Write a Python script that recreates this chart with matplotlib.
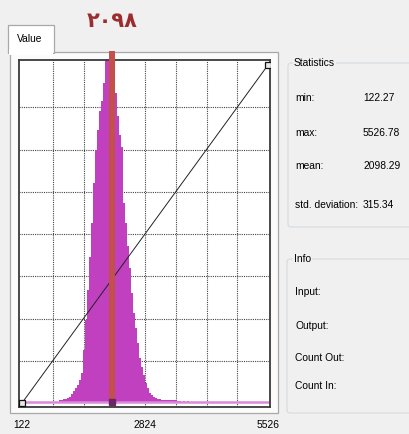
import matplotlib
matplotlib.use('agg')
import matplotlib.pyplot as plt
from matplotlib.patches import Rectangle, FancyBboxPatch
import numpy as np

# histogram data (value range 122 .. 5526)
x_min = 122.27
x_max = 5526.78
bin_start = 935
bin_width = 44
counts = [3, 3, 4, 4, 5, 6, 9, 12, 15, 18, 23, 30, 53, 83, 113, 146, 180, 220,
          253, 273, 292, 302, 320, 345, 370, 380, 375, 355, 310, 287, 268, 256,
          200, 180, 157, 135, 110, 90, 75, 60, 45, 36, 28, 20, 15, 10, 8, 6, 5,
          4, 4, 3, 3, 3, 3, 3, 3, 3, 3, 2, 2, 1, 2, 1, 2, 1]
count_top = 338
marker_value = 2098
marker_label = '٢٠٩٨'
tick_values = [122, 2824, 5526]
tick_labels = ['122', '2824', '5526']

stat_names = ['min:', 'max:', 'mean:', 'std. deviation:']
stat_values = ['122.27', '5526.78', '2098.29', '315.34']
info_names = ['Input:', 'Output:', 'Count Out:', 'Count In:']

W, H = 409, 434
bg = '#f0f0f0'
font = ['Liberation Sans', 'DejaVu Sans']
fs = 7.4

fig = plt.figure(figsize=(W / 100, H / 100), dpi=100)
fig.patch.set_facecolor(bg)


def fx(px):
    return px / W


def fy(py):
    return 1 - py / H


def box(x0, y0, x1, y1, fc, ec, lw=1.0, rounded=False):
    if rounded:
        p = FancyBboxPatch((fx(x0), fy(y1)), fx(x1) - fx(x0), fy(y0) - fy(y1),
                           boxstyle='round,pad=0,rounding_size=0.008',
                           transform=fig.transFigure, fc=fc, ec=ec, lw=lw, zorder=-2)
    else:
        p = Rectangle((fx(x0), fy(y1)), fx(x1) - fx(x0), fy(y0) - fy(y1),
                      transform=fig.transFigure, fc=fc, ec=ec, lw=lw, zorder=-2)
    fig.patches.append(p)


# tab + panel
box(10, 52, 278, 413, '#fbfbfb', '#a8a8a8', 0.9)
box(8, 25, 54, 53, '#ffffff', '#a8a8a8', 0.9)
box(9, 50, 53, 55, '#ffffff', 'none', 0)
fig.text(fx(17), fy(39), 'Value', family=font, fontsize=fs, color='#000000', va='center')

# group boxes
box(288, 63, 425, 227, bg, '#d8dde2', 0.9, rounded=True)
box(287, 259, 425, 413, bg, '#d8dde2', 0.9, rounded=True)
fig.text(fx(294), fy(63), 'Statistics', family=font, fontsize=fs, va='center',
         bbox=dict(fc=bg, ec='none', pad=0.5))
fig.text(fx(294), fy(259), 'Info', family=font, fontsize=fs, va='center',
         bbox=dict(fc=bg, ec='none', pad=0.5))
for name, val, py in zip(stat_names, stat_values, [98, 133, 166, 205]):
    fig.text(fx(295), fy(py), name, family=font, fontsize=fs, va='center')
    fig.text(fx(363), fy(py), val, family=font, fontsize=fs, va='center')
for name, py in zip(info_names, [292, 326, 358, 386]):
    fig.text(fx(295), fy(py), name, family=font, fontsize=fs, va='center')

# plot area
ax = fig.add_axes([fx(19), fy(407), fx(270) - fx(19), fy(60) - fy(407)])
scale = (x_max - x_min) / 246
ax.set_xlim(x_min - 3 * scale, x_min + 248 * scale)
ax.set_ylim(-4, count_top + 5)
ax.set_facecolor('white')
for s in ax.spines.values():
    s.set_color('#3a3a3a')
    s.set_linewidth(1.3)

ax.set_xticks([x_min + k * (x_max - x_min) / 8 for k in range(1, 8)])
ax.set_yticks([k * count_top / 8 for k in range(1, 8)])
ax.tick_params(length=0, labelbottom=False, labelleft=False)
ax.grid(True, color='#444444', linestyle=(0, (1, 1)), linewidth=0.8)
ax.set_axisbelow(True)

centers = bin_start + bin_width / 2 + bin_width * np.arange(len(counts))
ax.bar(centers, counts, width=bin_width, color='#c040c0', linewidth=0, zorder=2)
ax.plot([x_min, x_max], [1, 1], color='#d98ad9', lw=1.8, zorder=2.5)

ax.plot([x_min, x_max], [0, count_top], color='#222222', lw=0.7, zorder=3,
        marker='s', ms=4, mfc='#e8e8e8', mec='#111111', mew=0.9)

ax.plot([marker_value, marker_value], [-2, 352], color='#c4504c', lw=4.3,
        solid_capstyle='butt', clip_on=False, zorder=4)
ax.plot(marker_value, 1.5, marker='s', ms=4.5, color='#6b2464', zorder=5)
ax.text(marker_value, (407 - 21) / 347, marker_label, transform=ax.get_xaxis_transform(),
        ha='center', va='center', fontsize=15, fontweight='bold', color='#9b2d30',
        family=['DejaVu Sans'])

for v, lab in zip(tick_values, tick_labels):
    fig.text(ax.transData.transform((v, 0))[0] / fig.dpi / fig.get_figwidth(), fy(425),
             lab, family=font, fontsize=fs, ha='center', va='center')

fig.savefig('out.png', dpi=100, facecolor=bg)
